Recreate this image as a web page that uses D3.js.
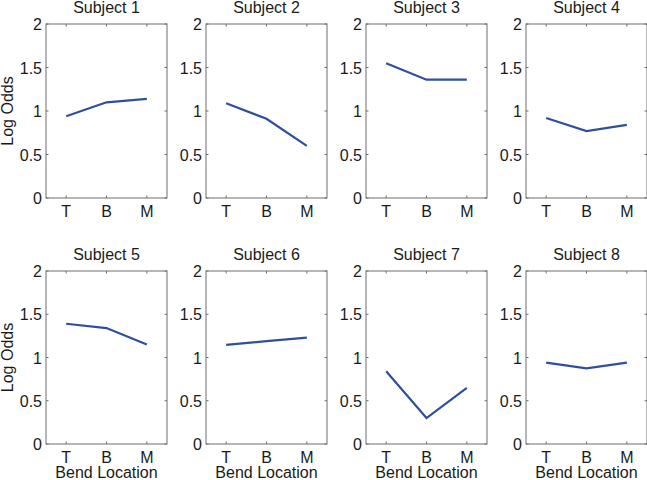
<!DOCTYPE html>
<html><head><meta charset="utf-8">
<script src="https://cdn.jsdelivr.net/npm/d3@7"></script>
<style>body{margin:0;background:#fff}svg{display:block}text{font-family:"Liberation Sans",Arial,Helvetica,sans-serif}</style>
</head><body>
<svg id="c" width="647" height="480"></svg>
<script>
const categories = ["T","B","M"];
const subjects = ["Subject 1","Subject 2","Subject 3","Subject 4","Subject 5","Subject 6","Subject 7","Subject 8"];
const s1 = [0.94, 1.10, 1.14];
const s2 = [1.09, 0.91, 0.60];
const s3 = [1.55, 1.36, 1.36];
const s4 = [0.92, 0.77, 0.84];
const s5 = [1.39, 1.34, 1.15];
const s6 = [1.145, 1.19, 1.23];
const s7 = [0.84, 0.30, 0.65];
const s8 = [0.94, 0.875, 0.94];
const series = [s1,s2,s3,s4,s5,s6,s7,s8];
const yTicks = [0, 0.5, 1, 1.5, 2];
const yTickLabels = ["0","0.5","1","1.5","2"];
const yLabel = "Log Odds";
const xLabel = "Bend Location";

const svg = d3.select("#c");
const axisColor = "#6e6e6e";
const lineColor = "#2f4f9e";
const textColor = "#1a1a1a";
const fs = 16;
const pw = 121;
const rows = [{top:24, bottom:198},{top:271, bottom:444}];
const lefts = [46, 206, 366, 526];
const tick = 2.5;

series.forEach((vals, i) => {
  const r = Math.floor(i/4), c = i%4;
  const x0 = lefts[c], y0 = rows[r].top, y1 = rows[r].bottom;
  const x = d3.scalePoint().domain(categories).range([x0, x0+pw]).padding(0.5);
  const y = d3.scaleLinear().domain([0,2]).range([y1, y0]);
  const g = svg.append("g");
  g.append("rect").attr("x", x0).attr("y", y0).attr("width", pw).attr("height", y1-y0)
    .attr("fill","none").attr("stroke", axisColor).attr("stroke-width",1);
  yTicks.forEach((t, k) => {
    const yy = y(t);
    g.append("line").attr("x1",x0).attr("x2",x0+tick).attr("y1",yy).attr("y2",yy).attr("stroke",axisColor);
    g.append("line").attr("x1",x0+pw).attr("x2",x0+pw-tick).attr("y1",yy).attr("y2",yy).attr("stroke",axisColor);
    g.append("text").attr("x", x0-4).attr("y", yy+6).attr("text-anchor","end")
      .attr("font-size",fs).attr("fill",textColor).text(yTickLabels[k]);
  });
  categories.forEach(cat => {
    const xx = x(cat);
    g.append("line").attr("x1",xx).attr("x2",xx).attr("y1",y1).attr("y2",y1-tick).attr("stroke",axisColor);
    g.append("line").attr("x1",xx).attr("x2",xx).attr("y1",y0).attr("y2",y0+tick).attr("stroke",axisColor);
    g.append("text").attr("x", xx).attr("y", y1+18.5).attr("text-anchor","middle")
      .attr("font-size",fs).attr("fill",textColor).text(cat);
  });
  g.append("text").attr("x", x0+pw/2).attr("y", y0-11).attr("text-anchor","middle")
    .attr("font-size",fs).attr("fill",textColor).text(subjects[i]);
  const line = d3.line().x((d,k)=>x(categories[k])).y(d=>y(d));
  g.append("path").datum(vals).attr("d", line).attr("fill","none")
    .attr("stroke", lineColor).attr("stroke-width",2.2);
  if (c === 0) {
    g.append("text").attr("transform", `translate(13,${(y0+y1)/2}) rotate(-90)`)
      .attr("text-anchor","middle").attr("font-size",fs).attr("fill",textColor).text(yLabel);
  }
  if (r === 1) {
    g.append("text").attr("x", x0+pw/2).attr("y", 478).attr("text-anchor","middle")
      .attr("font-size",fs).attr("fill",textColor).text(xLabel);
  }
});
</script>
</body></html>
